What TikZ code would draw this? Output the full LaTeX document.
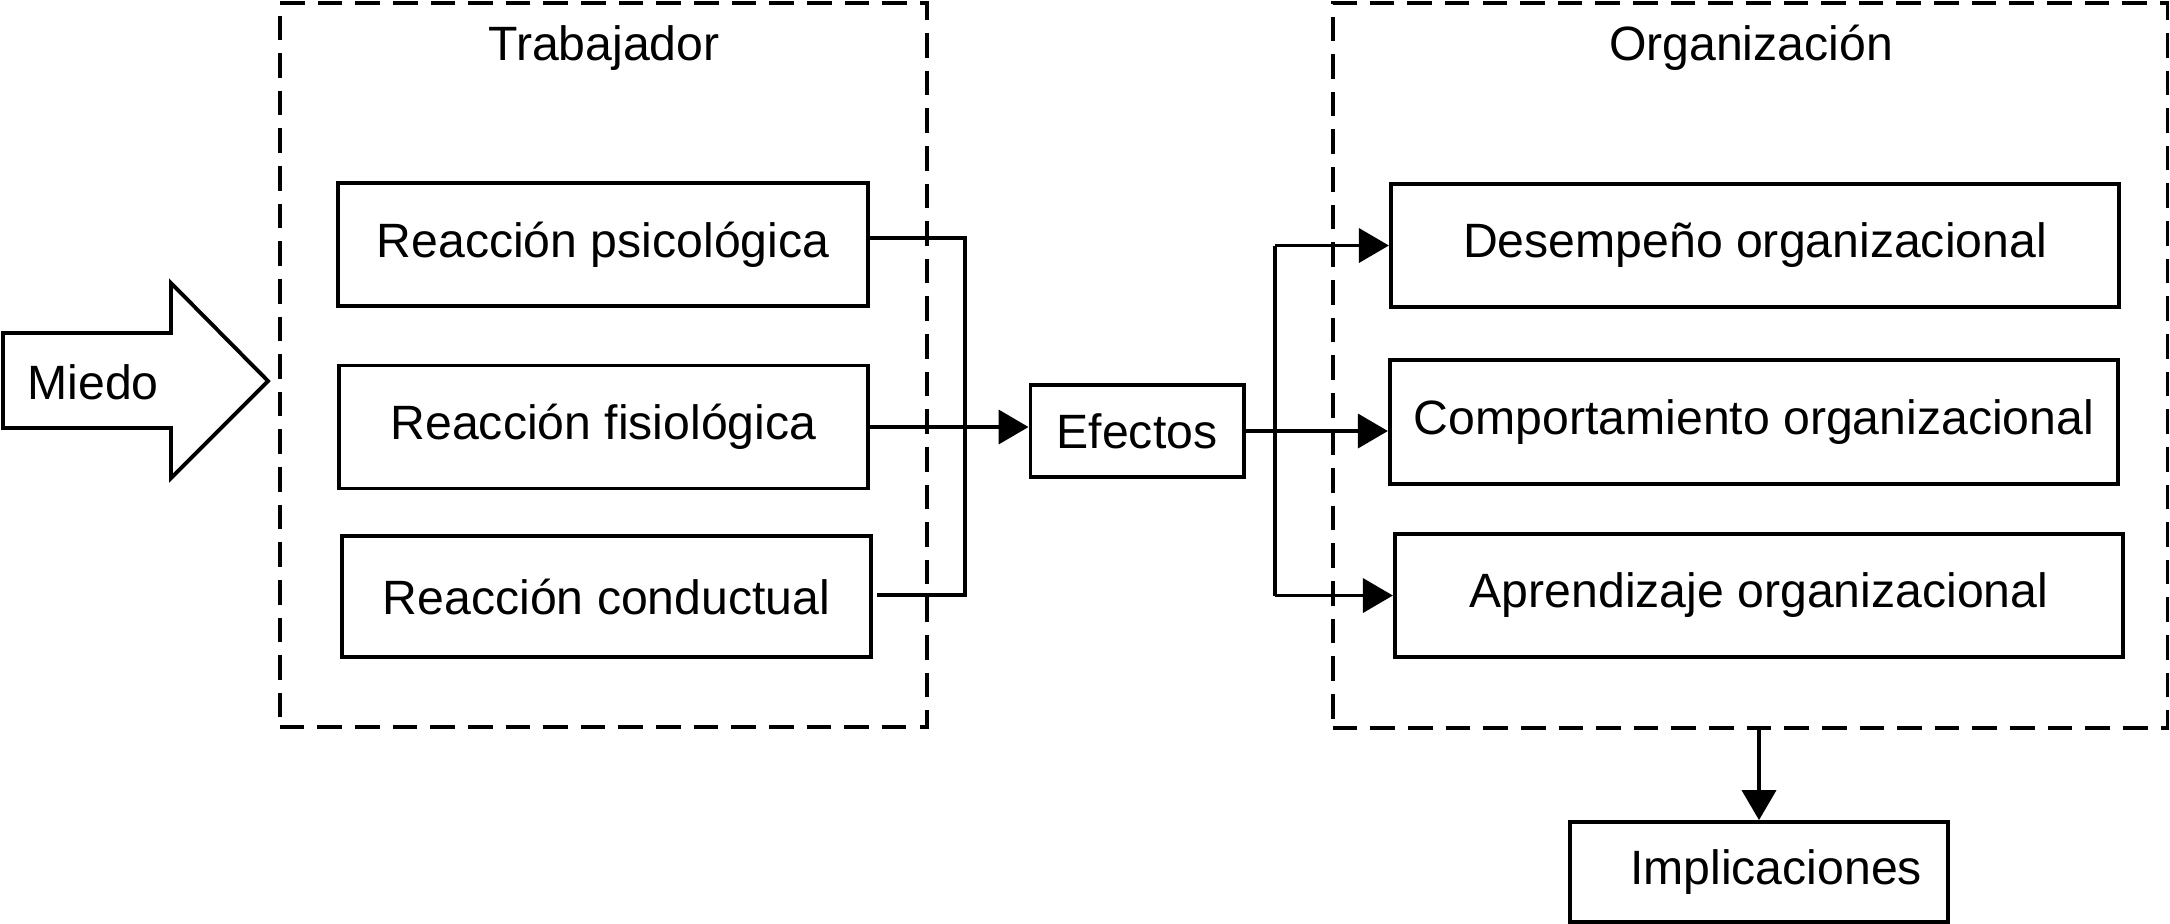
\documentclass[tikz,border=0pt]{standalone}
\usepackage{fontspec}
\setmainfont{Liberation Sans}
\usetikzlibrary{arrows.meta,calc}
\begin{document}
\begin{tikzpicture}[x=0.01cm,y=-0.01cm,
  every node/.style={font=\fontsize{13.7}{16}\selectfont},
  box/.style={draw,line width=1.1pt,inner sep=0pt,minimum height=#1*0.01cm},
  group/.style={draw,dashed,dash pattern=on 7pt off 3.7pt,line width=1pt,inner sep=0pt},
  wire/.style={line width=0.9pt},
  arr/.style={wire,-{Triangle[length=8.5pt,width=9.7pt]}}
]
\useasboundingbox (0,0) rectangle (2170,923);
% groups
\node[group,minimum width=6.47cm,minimum height=7.24cm] (trab) at (603.5,365) {};
\node[group,minimum width=8.34cm,minimum height=7.25cm] (org) at (1750,365.5) {};
\node (trabt) at (604,48) {Trabajador};
\node (orgt) at (1751,48) {Organización};
% Miedo arrow
\draw[line width=1.1pt,line join=miter] (3,333) -- (171,333) -- (171,283) -- (268,381) -- (171,478) -- (171,428) -- (3,428) -- cycle;
\node (miedo) at (93,382) {Miedo};
% worker boxes
\node[box=123,minimum width=5.30cm] (psic) at (603,244.5) {Reacción psicológica};
\node[box=123,minimum width=5.29cm] (fisio) at (603.5,427) {Reacción fisiológica};
\node[box=121,minimum width=5.29cm] (cond) at (606.5,596.5) {Reacción conductual};
% effects
\node[box=92,minimum width=2.13cm] (efectos) at (1137,431) {Efectos};
% organisation boxes
\node[box=123,minimum width=7.28cm] (desem) at (1755,245.5) {Desempeño organizacional};
\node[box=124,minimum width=7.28cm] (comp) at (1754,422) {Comportamiento organizacional};
\node[box=123,minimum width=7.28cm] (apren) at (1759,595.5) {Aprendizaje organizacional};
\node[box=100,minimum width=3.77cm] (impl) at (1759,872) {\hspace*{0.34cm}Implicaciones};
% left bus
\coordinate (lb) at (965,595);
\draw[wire] ([yshift=1.85pt]psic.east) -| (lb) -- ($(cond.east |- lb)+(4,0)$);
\draw[arr] (fisio.east) -- (efectos.west |- fisio.east);
% right bus
\coordinate (rt) at (1275,245.5);
\coordinate (rb) at (1275,595.5);
\draw[wire] (rt) -- (rb);
\draw[arr] (efectos.east) -- (comp.west |- efectos.east);
\draw[arr] (rt) -- (desem.west);
\draw[arr] (rb) -- (apren.west);
% implications
\draw[arr] (impl.north |- org.south) -- (impl.north);
\end{tikzpicture}
\end{document}
